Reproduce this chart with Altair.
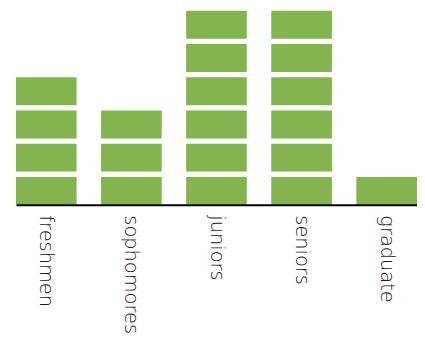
import altair as alt
import pandas as pd

categories = ["freshmen", "sophomores", "juniors", "seniors", "graduate"]
counts = [4, 3, 6, 6, 1]

rows = []
for cat, n in zip(categories, counts):
    for k in range(n):
        rows.append({"group": cat, "unit": k, "unit_end": k + 0.84})
df = pd.DataFrame(rows)

chart = alt.Chart(df).mark_rect(color="#84b44d").encode(
    x=alt.X("group:N", sort=categories, title=None,
            scale=alt.Scale(paddingInner=0.287, paddingOuter=0),
            axis=alt.Axis(labelAngle=90, ticks=False, domainColor="#000000",
                          domainWidth=2, labelFont="DejaVu Sans", labelFontSize=19.5,
                          labelColor="#1a1a1a", labelPadding=10, labelFontWeight=200)),
    y=alt.Y("unit:Q", scale=alt.Scale(domain=[0, 5.84], nice=False), axis=None),
    y2="unit_end:Q",
).properties(
    width=403, height=195,
    autosize=alt.AutoSizeParams(type="none"),
    padding={"left": 8, "top": 2, "right": 0, "bottom": 128},
).configure_view(stroke=None)

chart.save("out.html", embed_options={"renderer": "svg", "actions": False})
